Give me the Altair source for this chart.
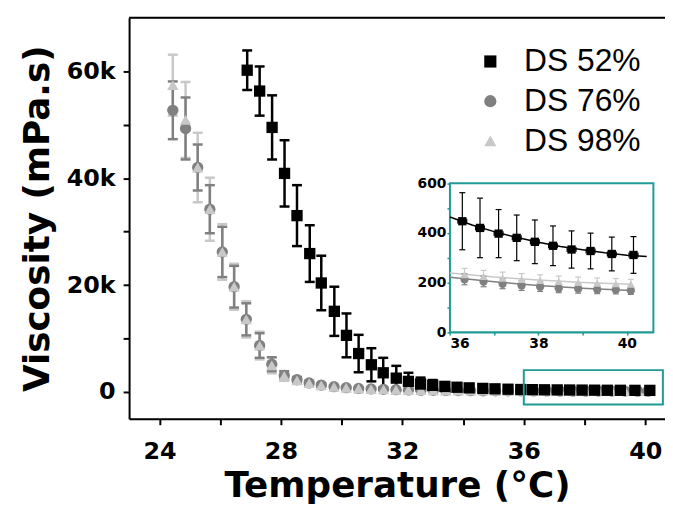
import altair as alt
import pandas as pd

# ---------------- data ----------------
series_names = ["DS 52%", "DS 76%", "DS 98%"]
series_colors = ["#000000", "#808080", "#c8c8c8"]
series_shapes = ["square", "circle", "triangle-up"]

temps52 = [26.89, 27.30, 27.71, 28.12, 28.53, 28.95, 29.33, 29.76, 30.16, 30.56,
           30.98, 31.37, 31.80, 32.20, 32.60, 33.00, 33.40, 33.80, 34.20, 34.65,
           35.05, 35.48, 35.90, 36.28, 36.68, 37.10, 37.51, 37.92, 38.33, 38.75,
           39.18, 39.66, 40.15]
visc52 = [60200, 56300, 49500, 40900, 33000, 25900, 20400, 15100, 10600, 7200,
          5100, 3600, 2600, 2000, 1500, 1250, 1050, 900, 780, 680,
          600, 530, 475, 447, 420, 397, 380, 364, 348, 333,
          327, 315, 311]
err52 = [3700, 4600, 6000, 6200, 5700, 5300, 5100, 4600, 4100, 3500,
         3100, 2800, 2300, 1600, 1200, 1000, 800, 650, 500, 400,
         300, 220, 160, 115, 120, 97, 92, 88, 80, 75,
         72, 68, 74]
xerr52 = 0.1

temps76 = [24.44, 24.86, 25.26, 25.66, 26.07, 26.46, 26.86, 27.30, 27.70, 28.11,
           28.53, 28.93, 29.33, 29.75, 30.15, 30.56, 30.97, 31.38, 31.79, 32.20,
           32.61, 33.02, 33.43, 33.84, 34.25, 34.66, 35.07, 35.48, 35.90, 36.33,
           36.76, 37.19, 37.62, 38.04, 38.46, 38.90, 39.33, 39.75, 40.09]
visc76 = [52700, 49300, 42000, 34200, 26200, 19700, 13600, 8700, 5200, 3100,
          2300, 1700, 1300, 1000, 820, 680, 580, 500, 440, 390,
          350, 320, 295, 275, 258, 245, 235, 226, 219, 213,
          204, 195, 188, 183, 177, 175, 172, 171, 168]
err76 = [5400, 5800, 4300, 4500, 4700, 3900, 3000, 2300, 1300, 800,
         500, 400, 300, 250, 200, 150, 120, 100, 80, 60,
         50, 40, 35, 30, 28, 26, 25, 24, 23, 22,
         21, 20, 20, 19, 18, 18, 17, 17, 16]

temps98 = temps76
visc98 = [57400, 50900, 42000, 34200, 26200, 19700, 13600, 8700, 5000, 3000,
          2200, 1650, 1250, 980, 800, 660, 560, 480, 420, 375,
          340, 310, 290, 272, 260, 251, 244, 238, 235, 232,
          225, 218, 213, 208, 204, 200, 197, 195, 193]
err98 = [5700, 7100, 6500, 5900, 5200, 4300, 3400, 2600, 1500, 900,
         600, 450, 350, 280, 220, 170, 130, 100, 80, 60,
         50, 40, 35, 30, 28, 27, 26, 25, 25, 25,
         24, 24, 23, 23, 22, 22, 21, 21, 20]

# fitted curves shown in the inset
fit_t52 = [36.0, 36.5, 37.0, 37.5, 38.0, 38.5, 39.0, 39.5, 40.0, 40.45]
fit_v52 = [464, 432, 405, 382, 362, 345, 332, 320, 310, 305]
fit_t = [36.0, 37.0, 38.0, 39.0, 40.1]
fit_v76 = [221, 203, 188, 177, 168]
fit_v98 = [238, 222, 210, 200, 193]

# main-panel highlight box (data coordinates) and inset domains
zoom_box = {"x": 36.0, "x2": 40.58, "y": -2350, "y2": 4100}
inset_x_domain = [36, 40.6]
inset_y_domain = [0, 600]

# ---------------- build tables ----------------
def table(name, t, v, e):
    df = pd.DataFrame({"T": t, "V": v, "E": e})
    df["lo"] = df["V"] - df["E"]
    df["hi"] = df["V"] + df["E"]
    df["series"] = name
    return df

d52 = table("DS 52%", temps52, visc52, err52)
d76 = table("DS 76%", temps76, visc76, err76)
d98 = table("DS 98%", temps98, visc98, err98)
d52["tl"] = d52["T"] - xerr52
d52["tr"] = d52["T"] + xerr52
color_of = dict(zip(series_names, series_colors))

# ---------------- layout ----------------
W, H = 540, 404
TEAL = "#1f9a94"
FONT = "DejaVu Sans"

xs = alt.Scale(domain=[23, 40.65], nice=False, zero=False)
ys = alt.Scale(domain=[-5000, 70000], nice=False, zero=False)

x_axis = alt.Axis(values=[24, 26, 28, 30, 32, 34, 36, 38, 40],
                  labelExpr="datum.value % 4 == 0 ? datum.label : ''",
                  title="Temperature (°C)", orient="bottom",
                  labelFont=FONT, labelFontWeight="bold", labelFontSize=24,
                  labelPadding=15, titleFont=FONT, titleFontWeight="bold",
                  titleFontSize=36, titlePadding=5, domainWidth=2,
                  domainColor="black", tickWidth=2, tickSize=6, tickColor="black",
                  labelColor="black", titleColor="black", grid=False)
y_axis = alt.Axis(values=[0, 10000, 20000, 30000, 40000, 50000, 60000],
                  labelExpr="datum.value == 0 ? '0' : (datum.value % 20000 == 0 ? (datum.value/1000) + 'k' : '')",
                  title="Viscosity (mPa.s)", orient="left",
                  labelFont=FONT, labelFontWeight="bold", labelFontSize=24,
                  labelPadding=8, titleFont=FONT, titleFontWeight="bold",
                  titleFontSize=36, titlePadding=10, domainWidth=2,
                  domainColor="black", tickWidth=2, tickSize=6, tickColor="black",
                  labelColor="black", titleColor="black", grid=False)

X = lambda f: alt.X(f, type="quantitative", scale=xs, axis=x_axis)
Y = lambda f: alt.Y(f, type="quantitative", scale=ys, axis=y_axis)

main_layers = []
# error bars (light first, so darker ones sit on top)
for df in (d98, d76, d52):
    c = color_of[df["series"].iloc[0]]
    main_layers.append(alt.Chart(df).mark_rule(color=c, strokeWidth=2.5).encode(
        x=X("T"), y=Y("lo"), y2="hi"))
    for f in ("lo", "hi"):
        main_layers.append(alt.Chart(df).mark_tick(
            color=c, orient="horizontal", size=10, thickness=2.5, opacity=1).encode(
            x=X("T"), y=Y(f)))

pts = pd.concat([d76, d98, d52], ignore_index=True)
legend = alt.Legend(orient="none", legendX=348, legendY=28, title=None,
                    labelFontSize=32, labelFont="Liberation Sans", labelColor="black",
                    symbolSize=150, rowPadding=8, labelOffset=18, padding=0,
                    symbolStrokeWidth=0, symbolOpacity=1)
main_layers.append(alt.Chart(pts).mark_point(filled=True, opacity=1, size=130).encode(
    x=X("T"), y=Y("V"),
    color=alt.Color("series:N", scale=alt.Scale(domain=series_names, range=series_colors), legend=legend),
    shape=alt.Shape("series:N", scale=alt.Scale(domain=series_names, range=series_shapes), legend=legend),
))
main_layers.append(alt.Chart(pd.DataFrame([zoom_box])).mark_rect(
    fill=None, stroke=TEAL, strokeWidth=2).encode(
    x=X("x"), x2="x2", y=Y("y"), y2="y2"))

main = alt.layer(*main_layers)

# ---------------- inset ----------------
# inset placed inside the plot area (pixel range of its scales)
xi = alt.Scale(domain=inset_x_domain, range=[323.3, 528.3], nice=False, zero=False)
yi = alt.Scale(domain=inset_y_domain, range=[316.7, 166.7], nice=False, zero=False)
xi_axis = alt.Axis(values=[36, 37, 38, 39, 40],
                   labelExpr="datum.value % 2 == 0 ? datum.label : ''",
                   title=None, orient="bottom", offset=316.7 - H,
                   labelFont=FONT, labelFontWeight="bold", labelFontSize=14,
                   labelPadding=1, labelColor="black", domainColor=TEAL,
                   domainWidth=2, tickColor=TEAL, tickSize=3, tickWidth=1.5, grid=False)
yi_axis = alt.Axis(values=[0, 100, 200, 300, 400, 500, 600],
                   labelExpr="datum.value % 200 == 0 ? datum.label : ''",
                   title=None, orient="left", offset=-323.3,
                   labelFont=FONT, labelFontWeight="bold", labelFontSize=14,
                   labelPadding=1, labelColor="black", domainColor=TEAL,
                   domainWidth=2, tickColor=TEAL, tickSize=3, tickWidth=1.5, grid=False)
XI = lambda f: alt.X(f, type="quantitative", scale=xi, axis=xi_axis)
YI = lambda f: alt.Y(f, type="quantitative", scale=yi, axis=yi_axis)

inset_layers = [
    alt.Chart(pd.DataFrame([{"x": inset_x_domain[0], "x2": inset_x_domain[1],
                             "y": inset_y_domain[0], "y2": inset_y_domain[1]}])).mark_rect(
        fill="white", stroke=TEAL, strokeWidth=2).encode(
        x=XI("x"), x2="x2", y=YI("y"), y2="y2")
]
fits = [
    (pd.DataFrame({"T": fit_t, "V": fit_v98}), "#c8c8c8"),
    (pd.DataFrame({"T": fit_t, "V": fit_v76}), "#808080"),
    (pd.DataFrame({"T": fit_t52, "V": fit_v52}), "#000000"),
]
for fdf, c in fits:
    inset_layers.append(alt.Chart(fdf).mark_line(color=c, strokeWidth=1.5).encode(
        x=XI("T"), y=YI("V")))

sub52 = d52[d52["T"] >= 36]
sub76 = d76[d76["T"] >= 36]
sub98 = d98[d98["T"] >= 36]
for df in (sub98, sub76, sub52):
    c = color_of[df["series"].iloc[0]]
    inset_layers.append(alt.Chart(df).mark_rule(color=c, strokeWidth=1.2).encode(
        x=XI("T"), y=YI("lo"), y2="hi"))
    for f in ("lo", "hi"):
        inset_layers.append(alt.Chart(df).mark_tick(
            color=c, orient="horizontal", size=6, thickness=1.2, opacity=1).encode(
            x=XI("T"), y=YI(f)))
# horizontal error bars of DS 52%
inset_layers.append(alt.Chart(sub52).mark_rule(color="black", strokeWidth=1.2).encode(
    x=XI("tl"), x2="tr", y=YI("V")))
for f in ("tl", "tr"):
    inset_layers.append(alt.Chart(sub52).mark_tick(
        color="black", orient="vertical", size=5, thickness=1.2, opacity=1).encode(
        x=XI(f), y=YI("V")))
for df, shp, sz in ((sub76, "circle", 70), (sub98, "triangle-up", 70), (sub52, "square", 70)):
    c = color_of[df["series"].iloc[0]]
    inset_layers.append(alt.Chart(df).mark_point(
        filled=True, opacity=1, shape=shp, size=sz, color=c).encode(
        x=XI("T"), y=YI("V")))

inset = alt.layer(*inset_layers)

top_line = alt.Chart(pd.DataFrame({"a": [0]})).mark_rule(color="black", strokeWidth=2).encode(
    x=alt.value(0), x2=alt.value(W), y=alt.value(0))

chart = alt.layer(main, inset, top_line).resolve_scale(
    x="independent", y="independent"
).properties(
    width=W, height=H, autosize="none",
    padding={"left": 122, "top": 8, "right": 0, "bottom": 86},
).configure_view(stroke=None).configure(background="white")

chart.save("out.html", embed_options={"renderer": "svg", "actions": False})
